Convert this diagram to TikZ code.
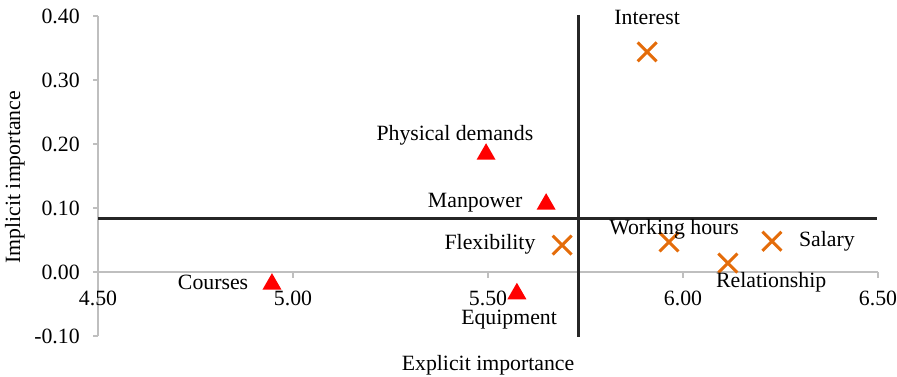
\documentclass[tikz,border=0pt]{standalone}
\usepackage{fontspec}
\setmainfont{Liberation Serif}
\usetikzlibrary{shapes.geometric,shapes.misc}
\definecolor{axisgray}{RGB}{191,191,191}
\definecolor{crossorange}{RGB}{228,108,10}
\tikzstyle{ptlabel} = [anchor=center, color=black, inner sep=0pt]
\tikzstyle{tri} = [regular polygon, regular polygon sides=3, fill=red, inner sep=0pt, minimum size=0.44cm]
\tikzstyle{crs} = [cross out, draw=crossorange, line width=1.7pt, inner sep=0pt, minimum size=0.32cm]
\tikzstyle{axisline} = [draw=axisgray, line width=0.8pt]
\tikzstyle{quadline} = [draw=black!85, line width=1.6pt]
\tikzset{font={\fontsize{12.4}{14}\selectfont}}

\begin{document}
\begin{tikzpicture}[x=7.8cm, y=12.8cm]
  \useasboundingbox (4.2487,-0.1625) rectangle (6.5487,0.425);

  % axes and ticks
  \draw[axisline] (4.5,0.4) -- (4.5,-0.1);
  \draw[axisline] (4.5,0) -- (6.5,0);
  \draw[axisline] (4.4872,0.4) -- (4.5,0.4);
  \draw[axisline] (4.4872,0.3) -- (4.5,0.3);
  \draw[axisline] (4.4872,0.2) -- (4.5,0.2);
  \draw[axisline] (4.4872,0.1) -- (4.5,0.1);
  \draw[axisline] (4.4872,0) -- (4.5,0);
  \draw[axisline] (4.4872,-0.1) -- (4.5,-0.1);
  \draw[axisline] (5,0) -- (5,-0.0094);
  \draw[axisline] (5.5,0) -- (5.5,-0.0094);
  \draw[axisline] (6,0) -- (6,-0.0094);
  \draw[axisline] (6.5,0) -- (6.5,-0.0094);

  \node[at={(4.4538,0.4)}, ptlabel, anchor=east] (y40) {0.40};
  \node[at={(4.4538,0.3)}, ptlabel, anchor=east] (y30) {0.30};
  \node[at={(4.4538,0.2)}, ptlabel, anchor=east] (y20) {0.20};
  \node[at={(4.4538,0.1)}, ptlabel, anchor=east] (y10) {0.10};
  \node[at={(4.4538,0)}, ptlabel, anchor=east] (y00) {0.00};
  \node[at={(4.4538,-0.1)}, ptlabel, anchor=east] (ym10) {-0.10};
  \node[at={(4.5,-0.0406)}, ptlabel] (x450) {4.50};
  \node[at={(5,-0.0406)}, ptlabel] (x500) {5.00};
  \node[at={(5.5,-0.0406)}, ptlabel] (x550) {5.50};
  \node[at={(6,-0.0406)}, ptlabel] (x600) {6.00};
  \node[at={(6.5,-0.0406)}, ptlabel] (x650) {6.50};

  \node[at={(5.5,-0.145)}, ptlabel] (xtitle) {Explicit importance};
  \node[at={(4.287,0.148)}, ptlabel, rotate=90] (ytitle) {Implicit importance};

  % quadrant lines
  \coordinate (hleft) at (4.5,0.083);
  \coordinate (hright) at (6.497,0.083);
  \coordinate (vtop) at (5.733,0.4016);
  \coordinate (vbot) at (5.733,-0.1016);
  \draw[quadline] (hleft) -- (hright);
  \draw[quadline] (vtop) -- (vbot);

  % triangles
  \node[at={(5.495,0.184)}, tri] (physical) {};
  \node[at={(5.649,0.106)}, tri] (manpower) {};
  \node[at={(4.946,-0.019)}, tri] (courses) {};
  \node[at={(5.574,-0.034)}, tri] (equipment) {};
  \node[at={(5.415,0.214)}, ptlabel] (physicallbl) {Physical demands};
  \node[at={(5.467,0.108)}, ptlabel] (manpowerlbl) {Manpower};
  \node[at={(4.795,-0.017)}, ptlabel] (courseslbl) {Courses};
  \node[at={(5.554,-0.075)}, ptlabel] (equipmentlbl) {Equipment};

  % crosses
  \node[at={(5.908,0.344)}, crs] (interest) {};
  \node[at={(5.690,0.042)}, crs] (flexibility) {};
  \node[at={(5.964,0.047)}, crs] (working) {};
  \node[at={(6.115,0.014)}, crs] (relationship) {};
  \node[at={(6.228,0.048)}, crs] (salary) {};
  \node[at={(5.908,0.398)}, ptlabel] (interestlbl) {Interest};
  \node[at={(5.505,0.044)}, ptlabel] (flexibilitylbl) {Flexibility};
  \node[at={(5.977,0.067)}, ptlabel] (workinglbl) {Working hours};
  \node[at={(6.226,-0.016)}, ptlabel] (relationshiplbl) {Relationship};
  \node[at={(6.369,0.048)}, ptlabel] (salarylbl) {Salary};

\end{tikzpicture}
\end{document}
